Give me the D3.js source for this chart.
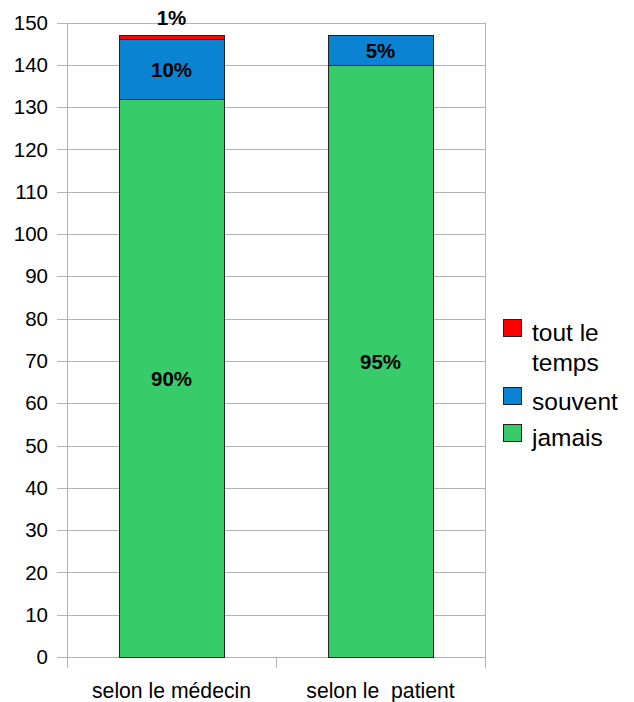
<!DOCTYPE html>
<html>
<head>
<meta charset="utf-8">
<script src="https://cdn.jsdelivr.net/npm/d3@7/dist/d3.min.js"></script>
<style>
  html, body { margin: 0; padding: 0; background: #fff; }
  svg { display: block; font-family: "Liberation Sans", Arial, sans-serif; }
</style>
</head>
<body>
<svg id="chart" width="634" height="702"></svg>
<script>
const categories = ["selon le médecin", "selon le  patient"];
const seriesNames = ["jamais", "souvent", "tout le temps"];
const jamais = [132, 140];
const souvent = [14, 7];
const toutLeTemps = [1, 0];
const yTicks = [0, 10, 20, 30, 40, 50, 60, 70, 80, 90, 100, 110, 120, 130, 140, 150];
const colors = ["#37cb6a", "#0a84d2", "#ff0000"];

(function () {
const svg = d3.select("#chart");
const pLeft = 67, pRight = 485, pTop = 22.5, pBottom = 657;

const x = d3.scaleBand().domain(categories).range([pLeft, pRight]).paddingInner(0).paddingOuter(0);
const y = d3.scaleLinear().domain([0, 150]).range([pBottom, pTop]);

const rows = categories.map((c, i) => ({ cat: c, jamais: jamais[i], souvent: souvent[i], tout: toutLeTemps[i] }));
const stack = d3.stack().keys(["jamais", "souvent", "tout"]);
const series = stack(rows);

// gridlines
svg.append("g").selectAll("line").data(yTicks).join("line")
  .attr("x1", pLeft - 10).attr("x2", pRight)
  .attr("y1", d => Math.round(y(d)) + 0.5).attr("y2", d => Math.round(y(d)) + 0.5)
  .attr("stroke", "#b3b3b3").attr("stroke-width", 1);

// left axis line, right border, category ticks
svg.append("line").attr("x1", pLeft + 0.5).attr("x2", pLeft + 0.5).attr("y1", y(150)).attr("y2", pBottom + 11)
  .attr("stroke", "#b3b3b3");
svg.append("line").attr("x1", pRight + 0.5).attr("x2", pRight + 0.5).attr("y1", y(150)).attr("y2", pBottom + 11)
  .attr("stroke", "#b3b3b3");
svg.append("line").attr("x1", Math.round(x(categories[1])) + 0.5).attr("x2", Math.round(x(categories[1])) + 0.5)
  .attr("y1", pBottom).attr("y2", pBottom + 11)
  .attr("stroke", "#b3b3b3");

// y tick labels
svg.append("g").selectAll("text").data(yTicks).join("text")
  .attr("x", 48).attr("y", d => y(d)).attr("dy", "0.35em")
  .attr("text-anchor", "end").attr("font-size", 20.5).attr("fill", "#000")
  .text(d => d);

// bars
const bw = x.bandwidth() * 0.5;
series.forEach((s, si) => {
  svg.append("g").selectAll("rect").data(s.filter(d => d[1] - d[0] > 0)).join("rect")
    .attr("x", d => Math.round(x(d.data.cat) + (x.bandwidth() - bw) / 2) + 0.5)
    .attr("y", d => Math.round(y(d[1])) + 0.5)
    .attr("width", Math.round(bw))
    .attr("height", d => Math.round(y(d[0])) - Math.round(y(d[1])))
    .attr("fill", colors[si]).attr("stroke", "#222").attr("stroke-width", 1);
});

// percentage labels
series.forEach((s, si) => {
  s.forEach(d => {
    const v = d[1] - d[0];
    if (v <= 0) return;
    const total = d.data.jamais + d.data.souvent + d.data.tout;
    const pct = Math.round(v / total * 100) + "%";
    const h = y(d[0]) - y(d[1]);
    const cx = x(d.data.cat) + x.bandwidth() / 2;
    const cy = h < 14 ? y(d[1]) - 17 : (y(d[0]) + y(d[1])) / 2 + 1;
    svg.append("text").attr("x", cx).attr("y", cy).attr("dy", "0.35em")
      .attr("text-anchor", "middle").attr("font-size", 20.5).attr("font-weight", "bold")
      .attr("fill", "#000").text(pct);
  });
});

// x labels
svg.append("g").selectAll("text").data(categories).join("text")
  .attr("x", d => x(d) + x.bandwidth() / 2).attr("y", 698)
  .attr("text-anchor", "middle").attr("font-size", 21.2).attr("fill", "#000")
  .style("white-space", "pre")
  .text(d => d);

// legend
const legendItems = [
  { lines: ["tout le", "temps"], color: colors[2], sq: 319, base: 341 },
  { lines: ["souvent"], color: colors[1], sq: 387, base: 410 },
  { lines: ["jamais"], color: colors[0], sq: 424, base: 446 }
];
const lg = svg.append("g");
legendItems.forEach(it => {
  lg.append("rect").attr("x", 503.5).attr("y", it.sq + 0.5).attr("width", 18).attr("height", 17)
    .attr("fill", it.color).attr("stroke", "#222").attr("stroke-width", 1);
  const t = lg.append("text").attr("x", 532).attr("y", it.base).attr("font-size", 24.5).attr("fill", "#000");
  it.lines.forEach((ln, i) => {
    t.append("tspan").attr("x", 532).attr("dy", i === 0 ? 0 : 30).text(ln);
  });
});
})();
</script>
</body>
</html>
